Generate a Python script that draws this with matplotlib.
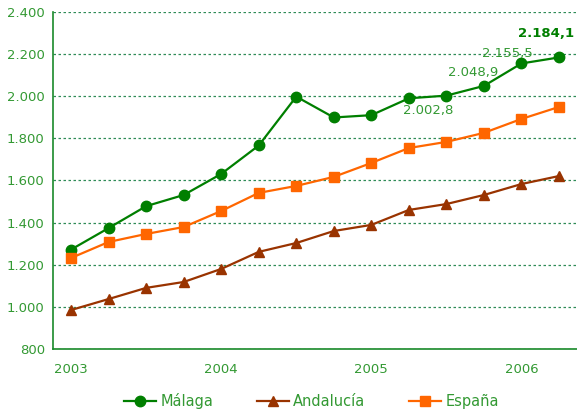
import numpy as np
import matplotlib.pyplot as plt
from matplotlib.ticker import FuncFormatter

quarters = np.arange(14)
year_ticks = [0, 4, 8, 12]
year_labels = ['2003', '2004', '2005', '2006']

malaga = [1272, 1374, 1478, 1531, 1631, 1766, 1998, 1899, 1910, 1990,
          2002.8, 2048.9, 2155.5, 2184.1]
andalucia = [985, 1037, 1090, 1118, 1180, 1261, 1303, 1360, 1389, 1460,
             1488, 1531, 1583, 1621]
espana = [1232, 1308, 1346, 1379, 1455, 1541, 1574, 1617, 1683, 1754,
          1783, 1826, 1892, 1949]

txt = '#339933'
green = '#007f00'
brown = '#993300'
orange = '#ff6600'

fig = plt.figure(figsize=(5.77, 4.12), dpi=100)
ax = fig.add_axes([0.092, 0.153, 0.908, 0.818])

ax.plot(quarters, malaga, color=green, marker='o', ms=7.5, lw=1.6, label='Málaga', zorder=3)
ax.plot(quarters, andalucia, color=brown, marker='^', ms=7.5, lw=1.6, label='Andalucía', zorder=3)
ax.plot(quarters, espana, color=orange, marker='s', ms=6.5, lw=1.6, label='España', zorder=3)

ax.set_xlim(-0.48, 13.48)
ax.set_ylim(800, 2400)
ax.set_yticks(np.arange(800, 2401, 200))
ax.yaxis.set_major_formatter(FuncFormatter(lambda v, p: f'{int(v):,}'.replace(',', '.')))
ax.set_xticks(year_ticks)
ax.set_xticklabels(year_labels)
ax.tick_params(axis='both', length=0, colors=txt, labelsize=9.5)
ax.tick_params(axis='x', pad=10)
ax.tick_params(axis='y', pad=6)

ax.grid(axis='y', color='#2e8b57', linestyle=(0, (2, 2)), lw=0.9)
for s in ['top', 'right']:
    ax.spines[s].set_visible(False)
for s in ['left', 'bottom']:
    ax.spines[s].set_color('#1a8a2a')
    ax.spines[s].set_linewidth(1.2)

# labels for the last Málaga values
ax.annotate('2.002,8', (10, malaga[10]), xytext=(-13, -11), textcoords='offset points',
            ha='center', va='center', color=txt, fontsize=9.5)
ax.annotate('2.048,9', (11, malaga[11]), xytext=(-8, 10), textcoords='offset points',
            ha='center', va='center', color=txt, fontsize=9.5)
ax.annotate('2.155,5', (12, malaga[12]), xytext=(-10, 7), textcoords='offset points',
            ha='center', va='center', color=txt, fontsize=9.5)
ax.annotate('2.184,1', (13, malaga[13]), xytext=(-9, 17), textcoords='offset points',
            ha='center', va='center', color=green, fontsize=9.5, fontweight='bold')

leg = fig.legend(loc='lower center', bbox_to_anchor=(0.54, -0.025), ncol=3, frameon=False,
                 fontsize=10.5, handlelength=2.2, columnspacing=3.0, handletextpad=0.3)
for t in leg.get_texts():
    t.set_color(txt)

fig.savefig('out.png', dpi=100)
